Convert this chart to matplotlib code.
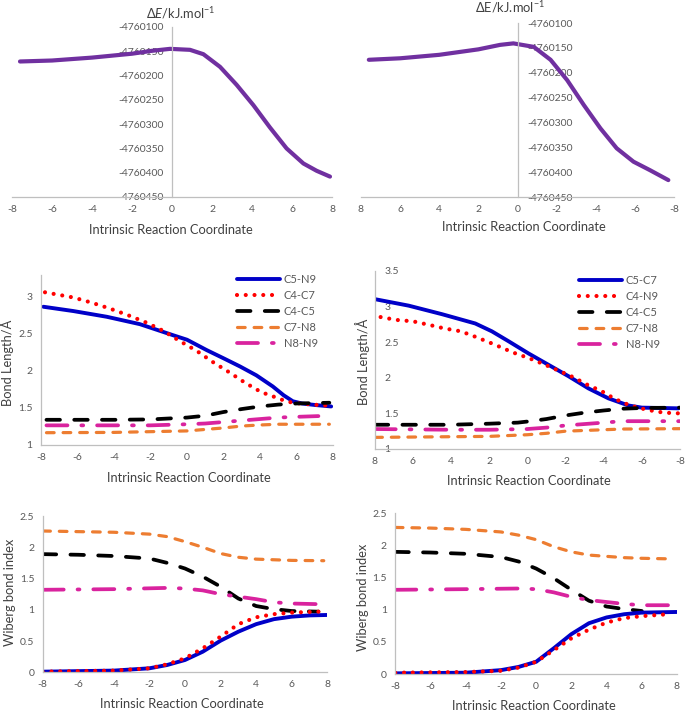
import matplotlib
matplotlib.use("Agg")
import matplotlib.pyplot as plt
from matplotlib.ticker import FixedLocator, FuncFormatter

plt.rcParams['font.family'] = ['Lato', 'DejaVu Sans']
plt.rcParams['mathtext.fontset'] = 'custom'
plt.rcParams['mathtext.rm'] = 'Lato'
plt.rcParams['mathtext.it'] = 'Lato:italic'

W, H = 685, 714

# ---------------- data ----------------
# Panel 1: energy profile (left)
e1_x = [-7.6, -6, -4, -2, -1, -0.1, 0.9, 1.57, 2.4, 3.23, 4.07, 4.9, 5.73, 6.57, 7.23, 7.9]
e1_y = [-4760171, -4760169, -4760163, -4760155, -4760149, -4760145, -4760147, -4760156,
        -4760182, -4760219, -4760261, -4760307, -4760350, -4760381, -4760396, -4760408]
# Panel 2: energy profile (right, reversed axis)
e2_x = [7.6, 6, 4, 2, 0.89, 0.21, -0.83, -1.69, -2.54, -3.39, -4.24, -5.07, -5.93, -6.77, -7.71]
e2_y = [-4760174, -4760171, -4760164, -4760153, -4760144, -4760141, -4760148, -4760174,
        -4760215, -4760265, -4760312, -4760352, -4760379, -4760396, -4760416]
energy_ticks = [-4760450, -4760400, -4760350, -4760300, -4760250, -4760200, -4760150, -4760100]
irc_ticks = [-8, -6, -4, -2, 0, 2, 4, 6, 8]

# Panel 3: bond lengths (left)
bl3_labels = ['C5-N9', 'C4-C7', 'C4-C5', 'C7-N8', 'N8-N9']
bl3_c5n9_x = [-7.87, -6.23, -4.4, -2.58, -0.75, 0, 1.08, 2.0, 2.9, 3.8, 4.7, 5.3, 5.8, 6.3, 7.0, 7.9]
bl3_c5n9_y = [2.865, 2.807, 2.73, 2.63, 2.48, 2.42, 2.28, 2.17, 2.06, 1.94, 1.79, 1.67, 1.59,
              1.56, 1.54, 1.52]
bl3_c4c7_x = [-7.78, -6.23, -5.22, -4.22, -3.22, -2.21, -1.30, -0.38, 0.53, 1.41, 2.32, 3.18,
              4.09, 4.57, 5.08, 5.6, 6.18, 7.18, 7.73]
bl3_c4c7_y = [3.06, 2.99, 2.92, 2.84, 2.75, 2.65, 2.54, 2.40, 2.27, 2.12, 1.98, 1.84,
              1.71, 1.67, 1.62, 1.58, 1.56, 1.54, 1.53]
bl3_c4c5_x = [-7.7, -4, -2, 0, 1, 2, 3, 4, 5, 6, 7.8]
bl3_c4c5_y = [1.34, 1.34, 1.345, 1.37, 1.395, 1.445, 1.485, 1.52, 1.545, 1.56, 1.57]
bl3_c7n8_x = [-7.7, -4, -2, 0, 1, 2, 3, 4, 5, 6, 7.8]
bl3_c7n8_y = [1.166, 1.17, 1.18, 1.19, 1.21, 1.23, 1.256, 1.27, 1.28, 1.28, 1.28]
bl3_n8n9_x = [-7.7, -2, 0, 1, 2, 3, 4, 5, 6, 7.2]
bl3_n8n9_y = [1.265, 1.265, 1.28, 1.29, 1.31, 1.33, 1.35, 1.37, 1.38, 1.39]

# Panel 4: bond lengths (right, reversed axis)
bl4_labels = ['C5-C7', 'C4-N9', 'C4-C5', 'C7-N8', 'N8-N9']
bl4_c5c7_x = [7.97, 6.22, 4.47, 2.73, 1.86, 0.98, -0.06, -1.11, -2.16, -3.20, -4.25, -5.3, -6.0, -7.92]
bl4_c5c7_y = [3.10, 3.01, 2.89, 2.76, 2.65, 2.51, 2.34, 2.18, 2.02, 1.85, 1.71, 1.61, 1.58, 1.57]
bl4_c4n9_x = [7.69, 6.87, 5.99, 5.14, 4.34, 3.48, 2.69, 1.86, 0.72, -0.12, -0.85, -1.63, -2.38,
              -3.15, -3.90, -4.60, -5.39, -6.26, -7.13, -7.92]
bl4_c4n9_y = [2.85, 2.81, 2.79, 2.74, 2.69, 2.65, 2.57, 2.48, 2.35, 2.27, 2.19, 2.10, 2.01,
              1.90, 1.81, 1.70, 1.61, 1.55, 1.51, 1.50]
bl4_c4c5_x = [8, 4, 2, 0.5, 0, -1, -2, -3, -4, -5, -6, -8]
bl4_c4c5_y = [1.34, 1.34, 1.355, 1.37, 1.385, 1.42, 1.47, 1.51, 1.54, 1.565, 1.575, 1.58]
bl4_c7n8_x = [8, 2, 0, -1, -2, -3, -4, -5, -8]
bl4_c7n8_y = [1.163, 1.177, 1.20, 1.22, 1.25, 1.26, 1.27, 1.28, 1.285]
bl4_n8n9_x = [8, 4, 2, 0, -1, -2, -3, -4, -5, -6, -8]
bl4_n8n9_y = [1.28, 1.27, 1.27, 1.28, 1.30, 1.33, 1.35, 1.37, 1.39, 1.39, 1.39]

# Panel 5: Wiberg bond index (left)
wb5_x = [-8, -6, -4, -2, -1, 0, 1, 2, 3, 4, 5, 6, 7.8]
wb5_orange = [2.26, 2.25, 2.24, 2.21, 2.17, 2.09, 2.00, 1.90, 1.84, 1.81, 1.80, 1.79, 1.785]
wb5_black_x = [-8, -6, -4, -2, -1, 0, 1, 2, 3, 4, 5, 6, 7.5]
wb5_black = [1.89, 1.88, 1.86, 1.82, 1.75, 1.66, 1.53, 1.37, 1.18, 1.06, 1.01, 0.98, 0.97]
wb5_magenta_x = [-8, -4, -1, 0, 1, 2, 3, 4, 5, 6, 7.5]
wb5_magenta = [1.32, 1.33, 1.35, 1.34, 1.31, 1.25, 1.21, 1.17, 1.12, 1.10, 1.09]
wb5_blue_x = [-8, -4, -2, -1, 0, 1, 2, 3, 4, 5, 6, 7, 8]
wb5_blue = [0.01, 0.027, 0.064, 0.117, 0.197, 0.33, 0.506, 0.65, 0.77, 0.85, 0.89, 0.91, 0.917]
wb5_red_x = [-8, -4, -2, -1, 0, 1, 2, 3, 4, 5, 6, 7.5]
wb5_red = [0.01, 0.027, 0.064, 0.128, 0.224, 0.384, 0.57, 0.77, 0.88, 0.93, 0.955, 0.97]

# Panel 6: Wiberg bond index (right)
wb6_x = [-8, -6, -4, -2, -1, 0, 1, 2, 3, 4, 5, 6, 7.8]
wb6_orange = [2.28, 2.27, 2.25, 2.21, 2.16, 2.09, 1.98, 1.90, 1.85, 1.83, 1.81, 1.80, 1.79]
wb6_black_x = [-8, -6, -4, -2, -1, 0, 1, 2, 3, 4, 5, 6]
wb6_black = [1.90, 1.89, 1.87, 1.82, 1.75, 1.64, 1.49, 1.31, 1.14, 1.05, 1.01, 0.98]
wb6_magenta_x = [-8, -4, -1, 0, 1, 2, 3, 4, 5, 6, 7.5]
wb6_magenta = [1.31, 1.32, 1.33, 1.32, 1.27, 1.20, 1.15, 1.12, 1.09, 1.07, 1.07]
wb6_blue_x = [-8, -4, -2, -1, 0, 1, 2, 3, 4, 5, 6, 8]
wb6_blue = [0.01, 0.02, 0.06, 0.11, 0.19, 0.40, 0.62, 0.79, 0.88, 0.93, 0.955, 0.965]
wb6_red_x = [-8, -4, -2, -1, 0, 1, 2, 3, 4, 5, 6, 7.5]
wb6_red = [0.02, 0.03, 0.05, 0.10, 0.19, 0.37, 0.555, 0.69, 0.80, 0.87, 0.90, 0.93]

bl_ticks_left = [1, 1.5, 2, 2.5, 3]
bl_ticks_right = [1, 1.5, 2, 2.5, 3, 3.5]
wb_ticks = [0, 0.5, 1, 1.5, 2, 2.5]

# ---------------- styles ----------------
PURPLE = '#7030A0'
BLUE = '#0000C8'
RED = '#FF0000'
BLACK = '#000000'
ORANGE = '#ED7D31'
MAGENTA = '#D9239E'
AXC = '#BFBFBF'
TICKC = '#595959'
LABC = '#404040'
TICK_FS = 7.5
LAB_FS = 9.3
LEG_FS = 8

sty = {
    'blue': dict(color=BLUE, lw=2.8, solid_capstyle='round'),
    'red': dict(color=RED, lw=3.0, linestyle=(0, (0.001, 2.1)), dash_capstyle='round'),
    'black': dict(color=BLACK, lw=2.7, linestyle=(0, (3.6, 3.8)), dash_capstyle='round'),
    'orange': dict(color=ORANGE, lw=2.3, linestyle=(0, (2.4, 2.8)), dash_capstyle='round'),
    'magenta': dict(color=MAGENTA, lw=2.7, linestyle=(0, (5.6, 3.7, 0.5, 3.7)), dash_capstyle='round'),
}

fig = plt.figure(figsize=(W / 100, H / 100), dpi=100)


def px_axes(l, t, r, b):
    return fig.add_axes([l / W, 1 - b / H, (r - l) / W, (b - t) / H])


def style_axes(ax, xlim, ylim, yticks, yfmt, ylabels_right=False, yspine_at_zero=False):
    ax.set_xlim(*xlim)
    ax.set_ylim(*ylim)
    ax.patch.set_alpha(0)
    for s in ['top', 'right']:
        ax.spines[s].set_visible(False)
    for s in ['left', 'bottom']:
        ax.spines[s].set_color(AXC)
        ax.spines[s].set_linewidth(0.9)
    if yspine_at_zero:
        ax.spines['left'].set_position(('data', 0))
    ax.xaxis.set_major_locator(FixedLocator(irc_ticks))
    ax.xaxis.set_major_formatter(FuncFormatter(lambda v, p: '%d' % v))
    ax.yaxis.set_major_locator(FixedLocator(yticks))
    ax.yaxis.set_major_formatter(FuncFormatter(yfmt))
    ax.tick_params(axis='both', length=0, labelsize=TICK_FS, labelcolor=TICKC)
    ax.tick_params(axis='x', pad=5.5)
    if ylabels_right:
        ax.tick_params(axis='y', pad=-7)
        for lab in ax.get_yticklabels():
            lab.set_horizontalalignment('left')
    else:
        ax.tick_params(axis='y', pad=6)


def gfmt(v, p):
    return ('%g' % v)


efmt = lambda v, p: '%d' % v


def label(x, y, s, rot=0, fs=LAB_FS):
    fig.text(x / W, 1 - y / H, s, ha='center', va='center', rotation=rot,
             fontsize=fs, color=LABC)


def legend(ax, handles, x, y):
    ax.legend(handles=handles, loc='upper left', bbox_to_anchor=(x / W, 1 - y / H),
              bbox_transform=fig.transFigure, frameon=False, fontsize=LEG_FS,
              handlelength=3.9, handletextpad=0.3, labelspacing=0.45, borderpad=0,
              borderaxespad=0, labelcolor=TICKC)


# Panel 1
ax1 = px_axes(12, 27, 332, 197)
style_axes(ax1, (-8, 8), (-4760450, -4760100), energy_ticks, efmt, yspine_at_zero=True)
ax1.plot(e1_x, e1_y, color=PURPLE, lw=3.0, solid_capstyle='round')
label(181, 13, r'Δ$\mathit{E}$/kJ.mol$^{-1}$')
label(171, 230, 'Intrinsic Reaction Coordinate')

# Panel 2
ax2 = px_axes(361, 23, 674, 197)
style_axes(ax2, (8, -8), (-4760450, -4760100), energy_ticks, efmt, ylabels_right=True,
           yspine_at_zero=True)
ax2.plot(e2_x, e2_y, color=PURPLE, lw=3.0, solid_capstyle='round')
label(510, 7, r'ΔE/kJ.mol$^{-1}$')
label(524, 227, 'Intrinsic Reaction Coordinate')

# Panel 3
ax3 = px_axes(41, 274.5, 333, 445)
style_axes(ax3, (-8, 8), (1, 3.3), bl_ticks_left, gfmt)
h = []
h += ax3.plot(bl3_c5n9_x, bl3_c5n9_y, label=bl3_labels[0], **sty['blue'])
h += ax3.plot(bl3_c4c7_x, bl3_c4c7_y, label=bl3_labels[1], **sty['red'])
h += ax3.plot(bl3_c4c5_x, bl3_c4c5_y, label=bl3_labels[2], **sty['black'])
h += ax3.plot(bl3_c7n8_x, bl3_c7n8_y, label=bl3_labels[3], **sty['orange'])
h += ax3.plot(bl3_n8n9_x, bl3_n8n9_y, label=bl3_labels[4], **sty['magenta'])
legend(ax3, h, 237, 274)
label(7, 363, 'Bond Length/Å', rot=90)
label(189, 478, 'Intrinsic Reaction Coordinate')

# Panel 4
ax4 = px_axes(374.7, 270.7, 680, 449)
style_axes(ax4, (8, -8), (1, 3.5), bl_ticks_right, gfmt, ylabels_right=True)
h = []
h += ax4.plot(bl4_c5c7_x, bl4_c5c7_y, label=bl4_labels[0], **sty['blue'])
h += ax4.plot(bl4_c4n9_x, bl4_c4n9_y, label=bl4_labels[1], **sty['red'])
h += ax4.plot(bl4_c4c5_x, bl4_c4c5_y, label=bl4_labels[2], **sty['black'])
h += ax4.plot(bl4_c7n8_x, bl4_c7n8_y, label=bl4_labels[3], **sty['orange'])
h += ax4.plot(bl4_n8n9_x, bl4_n8n9_y, label=bl4_labels[4], **sty['magenta'])
legend(ax4, h, 579, 275)
label(363, 362, 'Bond Length/Å', rot=90)
label(529, 481, 'Intrinsic Reaction Coordinate')

# Panel 5
ax5 = px_axes(42.7, 516, 327.3, 672.3)
style_axes(ax5, (-8, 8), (0, 2.5), wb_ticks, gfmt)
ax5.plot(wb5_x, wb5_orange, **sty['orange'])
ax5.plot(wb5_black_x, wb5_black, **sty['black'])
ax5.plot(wb5_magenta_x, wb5_magenta, **sty['magenta'])
ax5.plot(wb5_blue_x, wb5_blue, **sty['blue'])
ax5.plot(wb5_red_x, wb5_red, **sty['red'])
label(10, 592, 'Wiberg bond index', rot=90)
label(182, 704, 'Intrinsic Reaction Coordinate')

# Panel 6
ax6 = px_axes(395.3, 513.3, 677, 674)
style_axes(ax6, (-8, 8), (0, 2.5), wb_ticks, gfmt)
ax6.plot(wb6_x, wb6_orange, **sty['orange'])
ax6.plot(wb6_black_x, wb6_black, **sty['black'])
ax6.plot(wb6_magenta_x, wb6_magenta, **sty['magenta'])
ax6.plot(wb6_blue_x, wb6_blue, **sty['blue'])
ax6.plot(wb6_red_x, wb6_red, **sty['red'])
label(363, 597, 'Wiberg bond index', rot=90)
label(534, 706, 'Intrinsic Reaction Coordinate')

fig.savefig('out.png', dpi=100)
